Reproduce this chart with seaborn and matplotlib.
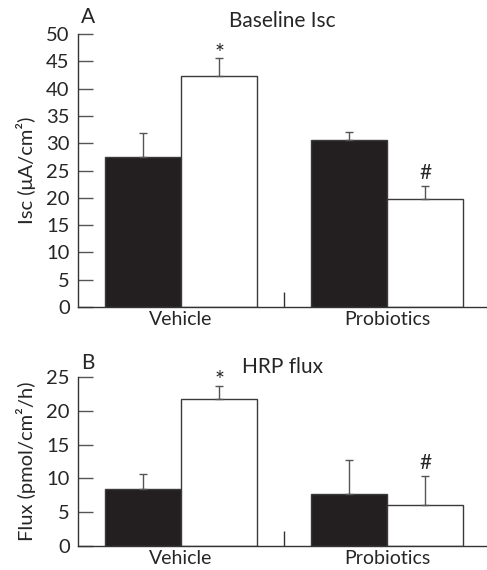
import pandas as pd
import matplotlib.pyplot as plt
import seaborn as sns

sns.set_style("ticks")
plt.rcParams['font.family'] = ['Lato', 'DejaVu Sans']
plt.rcParams['font.size'] = 14

# --- data ---
groups = ['Vehicle', 'Probiotics']
conditions = ['Control', 'Treated']

isc_control = [27.5, 30.6]
isc_control_err = [4.4, 1.5]
isc_treated = [42.3, 19.8]
isc_treated_err = [3.3, 2.4]

flux_control = [8.4, 7.7]
flux_control_err = [2.3, 5.0]
flux_treated = [21.8, 6.1]
flux_treated_err = [1.9, 4.3]

isc_marks = ['', '*', '', '#']
flux_marks = ['', '*', '', '#']

palette = ['#231f20', 'white']
edge = '#3a3a3a'


def make_df(ctrl, trt):
    return pd.DataFrame({
        'group': groups * 2,
        'condition': [conditions[0]] * 2 + [conditions[1]] * 2,
        'value': ctrl + trt,
    })


def draw(ax, ctrl, ctrl_err, trt, trt_err, marks, ymax, ystep, ylabel, title, letter):
    df = make_df(ctrl, trt)
    sns.barplot(data=df, x='group', y='value', hue='condition', palette=palette,
                width=0.74, errorbar=None, edgecolor=edge, linewidth=1,
                legend=False, ax=ax, saturation=1)
    bar_sets = list(ax.containers)
    errs = [ctrl_err, trt_err]
    vals = [ctrl, trt]
    for ci, cont in enumerate(bar_sets):
        for bi, bar in enumerate(cont):
            xc = bar.get_x() + bar.get_width() / 2
            ax.errorbar(xc, vals[ci][bi], yerr=[[0], [errs[ci][bi]]], fmt='none',
                        ecolor='#555555', elinewidth=1, capsize=3, capthick=1)
    # significance marks above the error bars
    order = [(0, 0), (1, 0), (0, 1), (1, 1)]
    for (ci, bi), m in zip(order, marks):
        if not m:
            continue
        bar = bar_sets[ci][bi]
        xc = bar.get_x() + bar.get_width() / 2
        ax.annotate(m, (xc, vals[ci][bi] + errs[ci][bi]),
                    xytext=(0, -4) if m == '*' else (0, 2),
                    textcoords='offset points', ha='center', va='bottom',
                    fontsize=17 if m == '*' else 15)

    ax.set_xlim(-0.5, 1.485)
    ax.set_ylim(0, ymax)
    ax.set_yticks(range(0, ymax + 1, ystep))
    ax.set_xticks([0.5], minor=True)
    ax.tick_params(axis='y', direction='in', length=11, width=1, color='#555555', pad=6,
                   labelsize=14.5)
    ax.tick_params(axis='x', which='major', length=0, pad=3, labelsize=14)
    ax.tick_params(axis='x', which='minor', direction='in', length=11, width=1,
                   color='#333333')
    ax.set_xlabel('')
    ax.set_ylabel(ylabel, fontsize=14.5, labelpad=7)
    sns.despine(ax=ax)
    for s in ['left', 'bottom']:
        ax.spines[s].set_color('#333333')
        ax.spines[s].set_linewidth(1)
    ax.set_title(title, fontsize=15, pad=0, x=0.5, y=1.025)
    ax.text(0.025, 1.025, letter, transform=ax.transAxes, fontsize=15, ha='center', va='bottom')


fig = plt.figure(figsize=(4.87, 5.70), dpi=100)
ax1 = fig.add_axes([78 / 487, 263 / 570, 409 / 487, 273 / 570])
ax2 = fig.add_axes([78 / 487, 24 / 570, 409 / 487, 169 / 570])

draw(ax1, isc_control, isc_control_err, isc_treated, isc_treated_err, isc_marks,
     50, 5, 'Isc (μA/cm²)', 'Baseline Isc', 'A')
draw(ax2, flux_control, flux_control_err, flux_treated, flux_treated_err, flux_marks,
     25, 5, 'Flux (pmol/cm²/h)', 'HRP flux', 'B')

fig.savefig('out.png', dpi=100)
